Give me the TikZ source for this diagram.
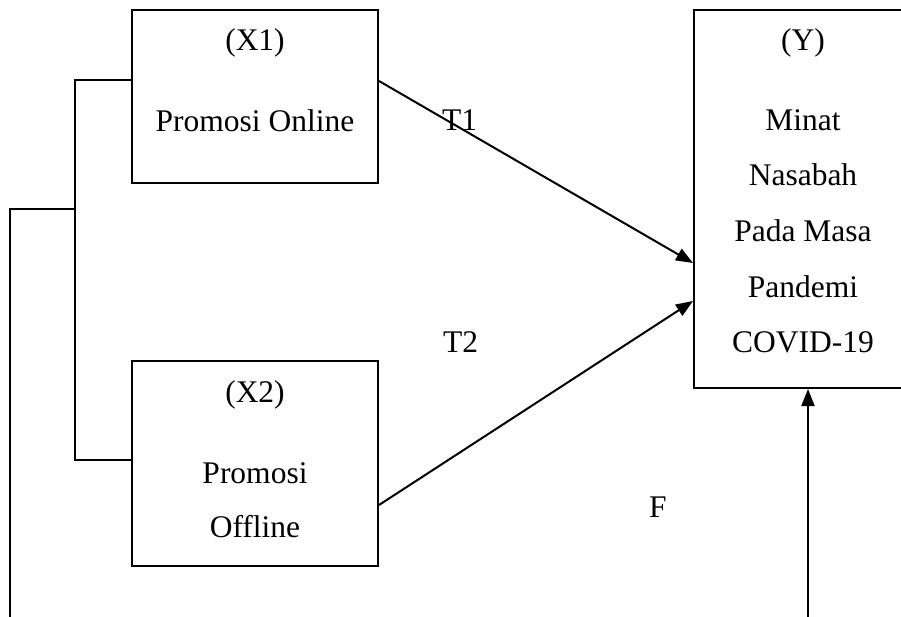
\documentclass[tikz,border=0pt]{standalone}
\usepackage{fontspec}
\setmainfont{Liberation Serif}
\usetikzlibrary{arrows.meta}
\begin{document}
\begin{tikzpicture}[x=1pt,y=-1pt,
  box/.style={draw,line width=2pt,inner sep=0pt,minimum width=#1},
  txt/.style={anchor=base,inner sep=0pt,font=\fontsize{31.5}{36}\selectfont},
  lbl/.style={anchor=base west,inner sep=0pt,font=\fontsize{31.5}{36}\selectfont},
  wire/.style={line width=2pt},
  arr/.style={line width=2pt,-{Triangle[length=17pt,width=13pt]}}]
\useasboundingbox (0,0) rectangle (901,617);
\clip (0,0) rectangle (901,617);
\fill[white] (0,0) rectangle (901,617);

% variable boxes
\node[box=246pt,minimum height=173pt] (x1) at (255,96.5) {};
\node[box=246pt,minimum height=205pt] (x2) at (255,463.5) {};
\node[box=224pt,minimum height=378pt] (y) at (806,199) {};

% box texts
\node[txt] (x1a) at (255,51) {(X1)};
\node[txt] (x1b) at (255,132) {Promosi Online};
\node[txt] (x2a) at (255,402) {(X2)};
\node[txt] (x2b) at (255,483) {Promosi};
\node[txt] (x2c) at (255,537) {Offline};
\node[txt] (ya) at (803,51) {(Y)};
\node[txt] (yb) at (803,130.5) {Minat};
\node[txt] (yc) at (803,186) {Nasabah};
\node[txt] (yd) at (803,241.7) {Pada Masa};
\node[txt] (ye) at (803,297.3) {Pandemi};
\node[txt] (yf) at (803,352.9) {COVID-19};

% path labels
\node[lbl] (t1) at (442,131) {T1};
\node[lbl] (t2) at (443,352) {T2};
\node[lbl] (f) at (649,517) {F};

% bracket joining X1 and X2, and the F line
\coordinate (bt) at (75,80);
\coordinate (bm) at (75,209);
\coordinate (bb) at (75,460);
\coordinate (lm) at (10,209);
\coordinate (lb) at (10,620);
\coordinate (fb) at (808,620);
\draw[wire] (x1.west |- bt) -- (bt) -- (bb) -- (x2.west |- bb);
\draw[wire] (bm) -- (lm) -- (lb);

% arrows
\draw[arr] (x1.east |- 0,81) -- (y.west |- 0,263);
\draw[arr] (x2.east |- 0,505) -- (y.west |- 0,301);
\draw[arr] (fb) -- (fb |- y.south);
\end{tikzpicture}
\end{document}
